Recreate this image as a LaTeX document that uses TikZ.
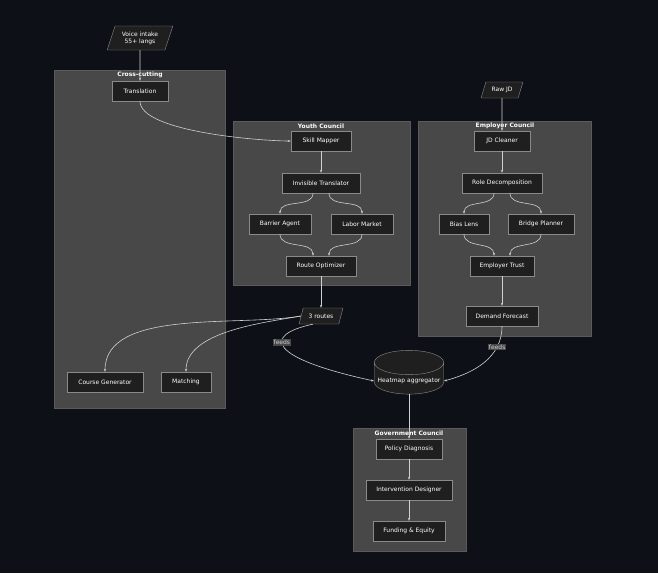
\documentclass[tikz,border=0pt]{standalone}
\usepackage{fontspec}
\setmainfont{DejaVu Sans}
\usetikzlibrary{shapes.geometric,arrows.meta,positioning}
\definecolor{bgdark}{HTML}{0D1117}
\definecolor{clusterfill}{HTML}{484848}
\definecolor{clusterline}{HTML}{5A5A5A}
\definecolor{boxfill}{HTML}{1F1F1F}
\definecolor{boxline}{HTML}{8A8A8A}
\definecolor{edgecol}{HTML}{D0D0D0}
\tikzset{
  box/.style={rectangle, draw=boxline, fill=boxfill, text=white, minimum height=20pt, inner sep=2pt, font=\fontsize{6}{7}\selectfont},
  io/.style={trapezium, trapezium left angle=70, trapezium right angle=110, trapezium stretches=true, draw=boxline, fill=boxfill, text=white, inner xsep=1pt, inner ysep=2pt, font=\fontsize{6}{7}\selectfont, align=center},
  store/.style={cylinder, shape border rotate=90, aspect=0.35, draw=boxline, fill=boxfill, text=white, minimum width=64pt, minimum height=38pt, font=\fontsize{6}{7}\selectfont},
  cluster/.style={draw=clusterline, fill=clusterfill},
  ctitle/.style={text=white, font=\bfseries\fontsize{6}{7}\selectfont, inner sep=1pt},
  edge/.style={draw=edgecol, semithick, -{Stealth[length=3pt]}},
  tag/.style={fill=clusterfill, text=edgecol, inner sep=1pt, font=\fontsize{6}{7}\selectfont}
}
\begin{document}
\begin{tikzpicture}[x=1pt,y=-1pt]
  \fill[bgdark] (0,0) rectangle (658,573);
  \useasboundingbox (0,0) rectangle (658,573);

  % clusters
  \draw[cluster] (54,70) rectangle (225,408);
  \draw[cluster] (233,121) rectangle (410,285);
  \draw[cluster] (418,121) rectangle (591,336);
  \draw[cluster] (353,428) rectangle (466,551);
  \node[ctitle] (t_cross) at (140,75) {Cross-cutting};
  \node[ctitle] (t_youth) at (321,126) {Youth Council};
  \node[ctitle] (t_employer) at (505,126) {Employer Council};
  \node[ctitle] (t_gov) at (409,433) {Government Council};

  % inputs
  \node[io, minimum width=66pt, minimum height=24pt] (voice) at (140,38) {Voice intake\\55+ langs};
  \node[io, minimum width=42pt, minimum height=16pt] (raw_jd) at (502,90) {Raw JD};

  % cross-cutting
  \node[box, minimum width=56pt] (translation) at (140,91) {Translation};
  \node[box, minimum width=76pt] (course_gen) at (105,382) {Course Generator};
  \node[box, minimum width=50pt] (matching) at (186,382) {Matching};

  % youth
  \node[box, minimum width=60pt] (skill_mapper) at (321,141) {Skill Mapper};
  \node[box, minimum width=78pt] (invisible) at (321,183) {Invisible Translator};
  \node[box, minimum width=62pt] (barrier) at (280,224) {Barrier Agent};
  \node[box, minimum width=62pt] (labor) at (362,224) {Labor Market};
  \node[box, minimum width=70pt] (route_opt) at (321,266) {Route Optimizer};

  % employer
  \node[box, minimum width=56pt] (jd_cleaner) at (502,141) {JD Cleaner};
  \node[box, minimum width=80pt] (role_dec) at (502,183) {Role Decomposition};
  \node[box, minimum width=50pt] (bias) at (464,224) {Bias Lens};
  \node[box, minimum width=66pt] (bridge) at (541,224) {Bridge Planner};
  \node[box, minimum width=64pt] (emp_trust) at (502,266) {Employer Trust};
  \node[box, minimum width=72pt] (demand) at (502,316) {Demand Forecast};

  % routes and aggregator
  \node[io, minimum width=44pt, minimum height=16pt] (routes) at (321,316) {3 routes};
  \node[store] (heatmap) at (409,381) {Heatmap aggregator};

  % government
  \node[box, minimum width=66pt] (policy) at (409,449) {Policy Diagnosis};
  \node[box, minimum width=86pt] (intervention) at (409,490) {Intervention Designer};
  \node[box, minimum width=72pt] (funding) at (409,531) {Funding \& Equity};

  \draw[edge] (voice) -- (translation);
  \draw[edge] (translation.south) to[out=-90, in=180, looseness=0.5] (skill_mapper.west);
  \draw[edge] (skill_mapper) -- (invisible);
  \draw[edge] ([xshift=-8pt]invisible.south) to[out=-90, in=90] (barrier.north);
  \draw[edge] ([xshift=8pt]invisible.south) to[out=-90, in=90] (labor.north);
  \draw[edge] (barrier.south) to[out=-90, in=90] ([xshift=-8pt]route_opt.north);
  \draw[edge] (labor.south) to[out=-90, in=90] ([xshift=8pt]route_opt.north);
  \draw[edge] (route_opt) -- (routes);
  \draw[edge] (routes.west) to[out=190, in=90, looseness=0.8] (course_gen.north);
  \draw[edge] (routes.west) to[out=190, in=90, looseness=0.8] (matching.north);
  \draw[edge] (routes.south west) .. controls (262,335) and (268,358) .. node[tag, pos=0.4] {feeds} (heatmap.west);
  \draw[edge] (raw_jd) -- (jd_cleaner);
  \draw[edge] (jd_cleaner) -- (role_dec);
  \draw[edge] ([xshift=-8pt]role_dec.south) to[out=-90, in=90] (bias.north);
  \draw[edge] ([xshift=8pt]role_dec.south) to[out=-90, in=90] (bridge.north);
  \draw[edge] (bias.south) to[out=-90, in=90] ([xshift=-8pt]emp_trust.north);
  \draw[edge] (bridge.south) to[out=-90, in=90] ([xshift=8pt]emp_trust.north);
  \draw[edge] (emp_trust) -- (demand);
  \draw[edge] (demand.south) to[out=-90, in=15] node[tag, pos=0.25] {feeds} (heatmap.east);
  \draw[edge] (heatmap) -- (policy);
  \draw[edge] (policy) -- (intervention);
  \draw[edge] (intervention) -- (funding);
\end{tikzpicture}
\end{document}
